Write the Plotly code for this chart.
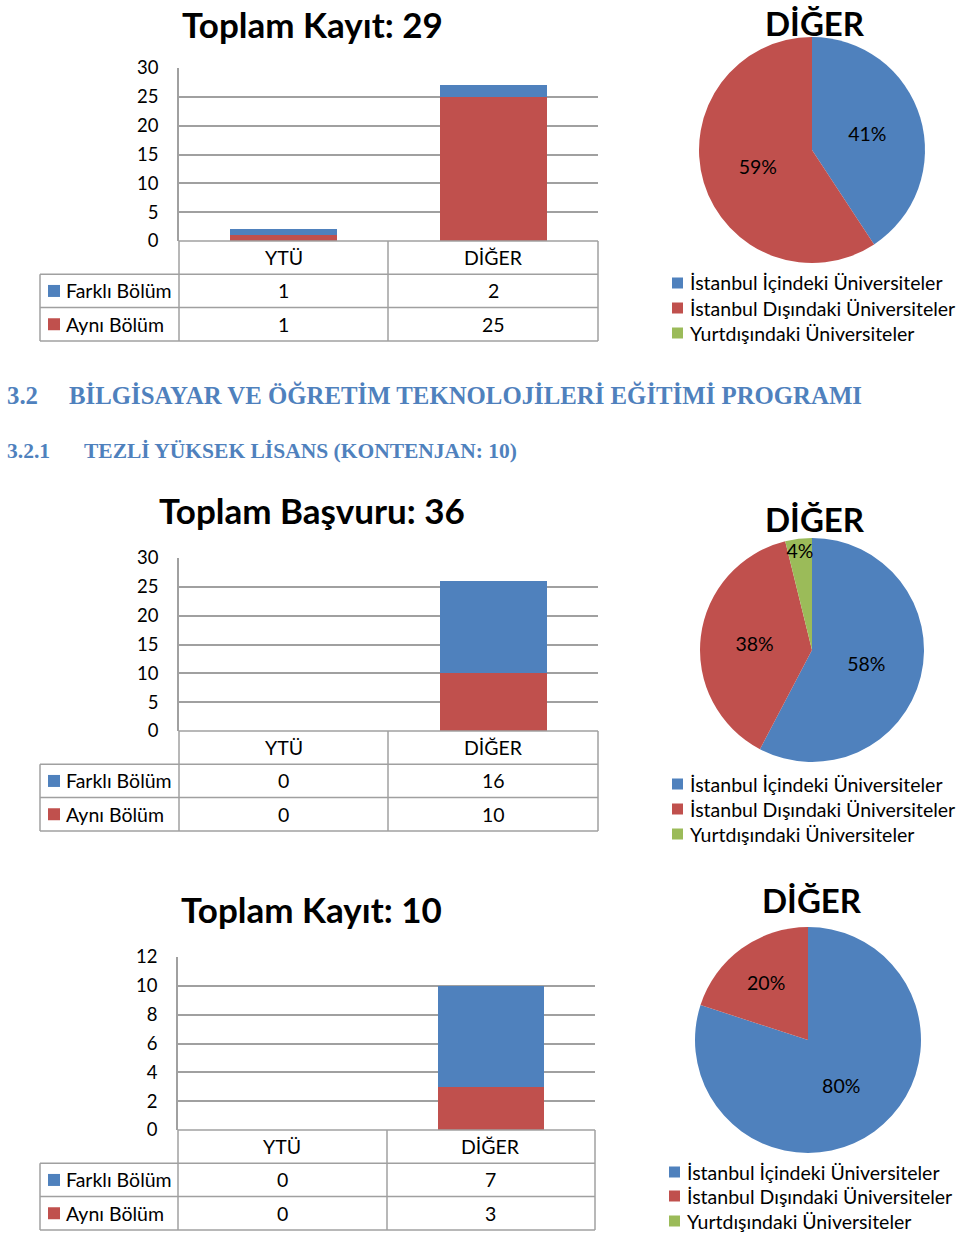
import plotly.graph_objects as go

W, H = 960, 1236

# ---------------- data ----------------
categories = ["YTÜ", "DİĞER"]
series_names = ["Farklı Bölüm", "Aynı Bölüm"]

kayit29_farkli = [1, 2]
kayit29_ayni = [1, 25]
basvuru36_farkli = [0, 16]
basvuru36_ayni = [0, 10]
kayit10_farkli = [0, 7]
kayit10_ayni = [0, 3]

bar_titles = ["Toplam Kayıt: 29", "Toplam Başvuru: 36", "Toplam Kayıt: 10"]
y_max = [30, 30, 12]
y_dtick = [5, 5, 2]

pie_title = "DİĞER"
pie_labels = ["İstanbul İçindeki Üniversiteler",
              "İstanbul Dışındaki Üniversiteler",
              "Yurtdışındaki Üniversiteler"]
pie1_values = [11, 16, 0]
pie2_values = [15, 10, 1]
pie3_values = [8, 2, 0]

heading1_num = "3.2"
heading1_text = "BİLGİSAYAR VE ÖĞRETİM TEKNOLOJİLERİ EĞİTİMİ PROGRAMI"
heading2_num = "3.2.1"
heading2_text = "TEZLİ YÜKSEK LİSANS (KONTENJAN: 10)"

# ---------------- styling / geometry ----------------
BLUE, RED, GREEN = "#4F81BD", "#C0504D", "#9BBB59"
PIE_COLORS = [BLUE, RED, GREEN]
GRID = "#A0A0A0"
FONT = "Lato"
TXT = 19.5
TICK = 18.5

def px(x):
    return x / W

def py(y):
    return 1 - y / H

panels = [
    dict(title_x=312, title_y=24, top=68, base=241, left=179, mid=388, right=598, tleft=40,
         pcx=812, pcy=150, pr=113, ptx=815, pty=23, leg_x=672, leg_y=[283, 308, 333]),
    dict(title_x=312, title_y=510, top=558, base=731, left=179, mid=388, right=598, tleft=40,
         pcx=812, pcy=650, pr=112, ptx=815, pty=519, leg_x=672, leg_y=[784, 809, 834]),
    dict(title_x=311, title_y=909, top=957, base=1130, left=178, mid=387, right=595, tleft=40,
         pcx=808, pcy=1040, pr=113, ptx=812, pty=900, leg_x=669, leg_y=[1172, 1196, 1221]),
]
bar_data = [(kayit29_farkli, kayit29_ayni),
            (basvuru36_farkli, basvuru36_ayni),
            (kayit10_farkli, kayit10_ayni)]
pie_data = [pie1_values, pie2_values, pie3_values]

fig = go.Figure()
annotations = []
shapes = []
layout_axes = {}
ROW = 33.3

for i, (p, (farkli, ayni), pvals) in enumerate(zip(panels, bar_data, pie_data)):
    n = "" if i == 0 else str(i + 1)
    xa, ya = "x" + n, "y" + n
    # stacked bars (Aynı Bölüm at bottom)
    fig.add_trace(go.Bar(x=categories, y=ayni, name=series_names[1], marker_color=RED,
                         marker_line_width=0, xaxis=xa, yaxis=ya, showlegend=False))
    fig.add_trace(go.Bar(x=categories, y=farkli, name=series_names[0], marker_color=BLUE,
                         marker_line_width=0, xaxis=xa, yaxis=ya, showlegend=False))
    layout_axes["xaxis" + n] = dict(domain=[px(p["left"]), px(p["right"])], anchor=ya,
                                    range=[-0.5, 1.5], showticklabels=False, showgrid=False,
                                    zeroline=False, showline=False, fixedrange=True,
                                    automargin=False)
    layout_axes["yaxis" + n] = dict(domain=[py(p["base"]), py(p["top"])], anchor=xa,
                                    range=[0, y_max[i]], dtick=y_dtick[i], showgrid=True,
                                    gridcolor=GRID, gridwidth=1.5, zeroline=False,
                                    showline=True, linecolor=GRID, linewidth=1.5,
                                    ticks="", ticklabelstandoff=15, automargin=False,
                                    tickfont=dict(family=FONT, size=TICK, color="#000"),
                                    fixedrange=True)
    # bar chart title
    annotations.append(dict(text="<b>%s</b>" % bar_titles[i], x=px(p["title_x"]), y=py(p["title_y"]),
                            xref="paper", yref="paper", showarrow=False, xanchor="center",
                            yanchor="middle", font=dict(family=FONT, size=35, color="#000")))
    # data table grid
    b, L, M, R, TL = p["base"], p["left"], p["mid"], p["right"], p["tleft"]
    line = dict(color=GRID, width=1.5)
    hl = [(b, L), (b + ROW, TL), (b + 2 * ROW, TL), (b + 3 * ROW, TL)]
    for yy, x0 in hl:
        shapes.append(dict(type="line", xref="paper", yref="paper", x0=px(x0), x1=px(R),
                           y0=py(yy), y1=py(yy), line=line))
    for xx in (L, M, R):
        shapes.append(dict(type="line", xref="paper", yref="paper", x0=px(xx), x1=px(xx),
                           y0=py(b), y1=py(b + 3 * ROW), line=line))
    shapes.append(dict(type="line", xref="paper", yref="paper", x0=px(TL), x1=px(TL),
                       y0=py(b + ROW), y1=py(b + 3 * ROW), line=line))
    # table header (categories)
    for c in categories:
        annotations.append(dict(text=c, x=c, y=py(b + ROW / 2), xref=xa, yref="paper",
                                showarrow=False, xanchor="center", yanchor="middle",
                                font=dict(family=FONT, size=TXT, color="#000")))
    # table rows
    for r, (sname, vals, col) in enumerate([(series_names[0], farkli, BLUE),
                                            (series_names[1], ayni, RED)]):
        yc = b + ROW * (r + 1) + ROW / 2
        shapes.append(dict(type="rect", xref="paper", yref="paper", x0=px(48), x1=px(60),
                           y0=py(yc + 6), y1=py(yc - 6), fillcolor=col, line_width=0))
        annotations.append(dict(text=sname, x=px(64), y=py(yc), xref="paper", yref="paper",
                                showarrow=False, xanchor="left", yanchor="middle",
                                font=dict(family=FONT, size=TXT, color="#000")))
        for c, v in zip(categories, vals):
            annotations.append(dict(text=str(v), x=c, y=py(yc), xref=xa, yref="paper",
                                    showarrow=False, xanchor="center", yanchor="middle",
                                    font=dict(family=FONT, size=TXT, color="#000")))
    # pie
    total = sum(pvals)
    ptext = ["%d%%" % round(100 * v / total) if v > 0 else "" for v in pvals]
    fig.add_trace(go.Pie(labels=pie_labels, values=pvals, text=ptext, textinfo="text",
                         sort=False, direction="clockwise", rotation=0,
                         marker=dict(colors=PIE_COLORS, line=dict(width=0)),
                         textposition="inside", insidetextorientation="horizontal",
                         textfont=dict(family=FONT, size=TXT, color="#000"),
                         domain=dict(x=[px(p["pcx"] - p["pr"]), px(p["pcx"] + p["pr"])],
                                     y=[py(p["pcy"] + p["pr"]), py(p["pcy"] - p["pr"])]),
                         showlegend=False, hoverinfo="label+percent"))
    # pie legend (drawn next to each pie)
    for lab, col, ly in zip(pie_labels, PIE_COLORS, p["leg_y"]):
        lx = p["leg_x"]
        shapes.append(dict(type="rect", xref="paper", yref="paper", x0=px(lx), x1=px(lx + 11),
                           y0=py(ly + 5.5), y1=py(ly - 5.5), fillcolor=col, line_width=0))
        annotations.append(dict(text=lab, x=px(lx + 16), y=py(ly), xref="paper", yref="paper",
                                showarrow=False, xanchor="left", yanchor="middle",
                                font=dict(family=FONT, size=TXT, color="#000")))
    annotations.append(dict(text="<b>%s</b>" % pie_title, x=px(p["ptx"]), y=py(p["pty"]),
                            xref="paper", yref="paper", showarrow=False, xanchor="center",
                            yanchor="middle", font=dict(family=FONT, size=33, color="#000")))

# section headings
HFONT = "Liberation Serif"
for num, txt, yy, xt, sz in [(heading1_num, heading1_text, 395, 67, 24.8),
                             (heading2_num, heading2_text, 451, 82, 21.5)]:
    annotations.append(dict(text="<b>%s</b>" % num, x=px(5), y=py(yy), xref="paper", yref="paper",
                            showarrow=False, xanchor="left", yanchor="middle",
                            font=dict(family=HFONT, size=sz, color=BLUE)))
    annotations.append(dict(text="<b>%s</b>" % txt, x=px(xt), y=py(yy), xref="paper", yref="paper",
                            showarrow=False, xanchor="left", yanchor="middle",
                            font=dict(family=HFONT, size=sz, color=BLUE)))

fig.update_layout(width=W, height=H, autosize=False,
                  margin=dict(l=0, r=0, t=0, b=0, pad=0, autoexpand=False),
                  paper_bgcolor="white", plot_bgcolor="white",
                  barmode="stack", bargap=0.49, showlegend=False,
                  annotations=annotations, shapes=shapes,
                  uniformtext=dict(minsize=TXT, mode="show"),
                  **layout_axes)

fig.write_html("out.html", config={"displayModeBar": False, "responsive": False},
               post_script="document.body.style.margin='0';document.body.style.padding='0';")
